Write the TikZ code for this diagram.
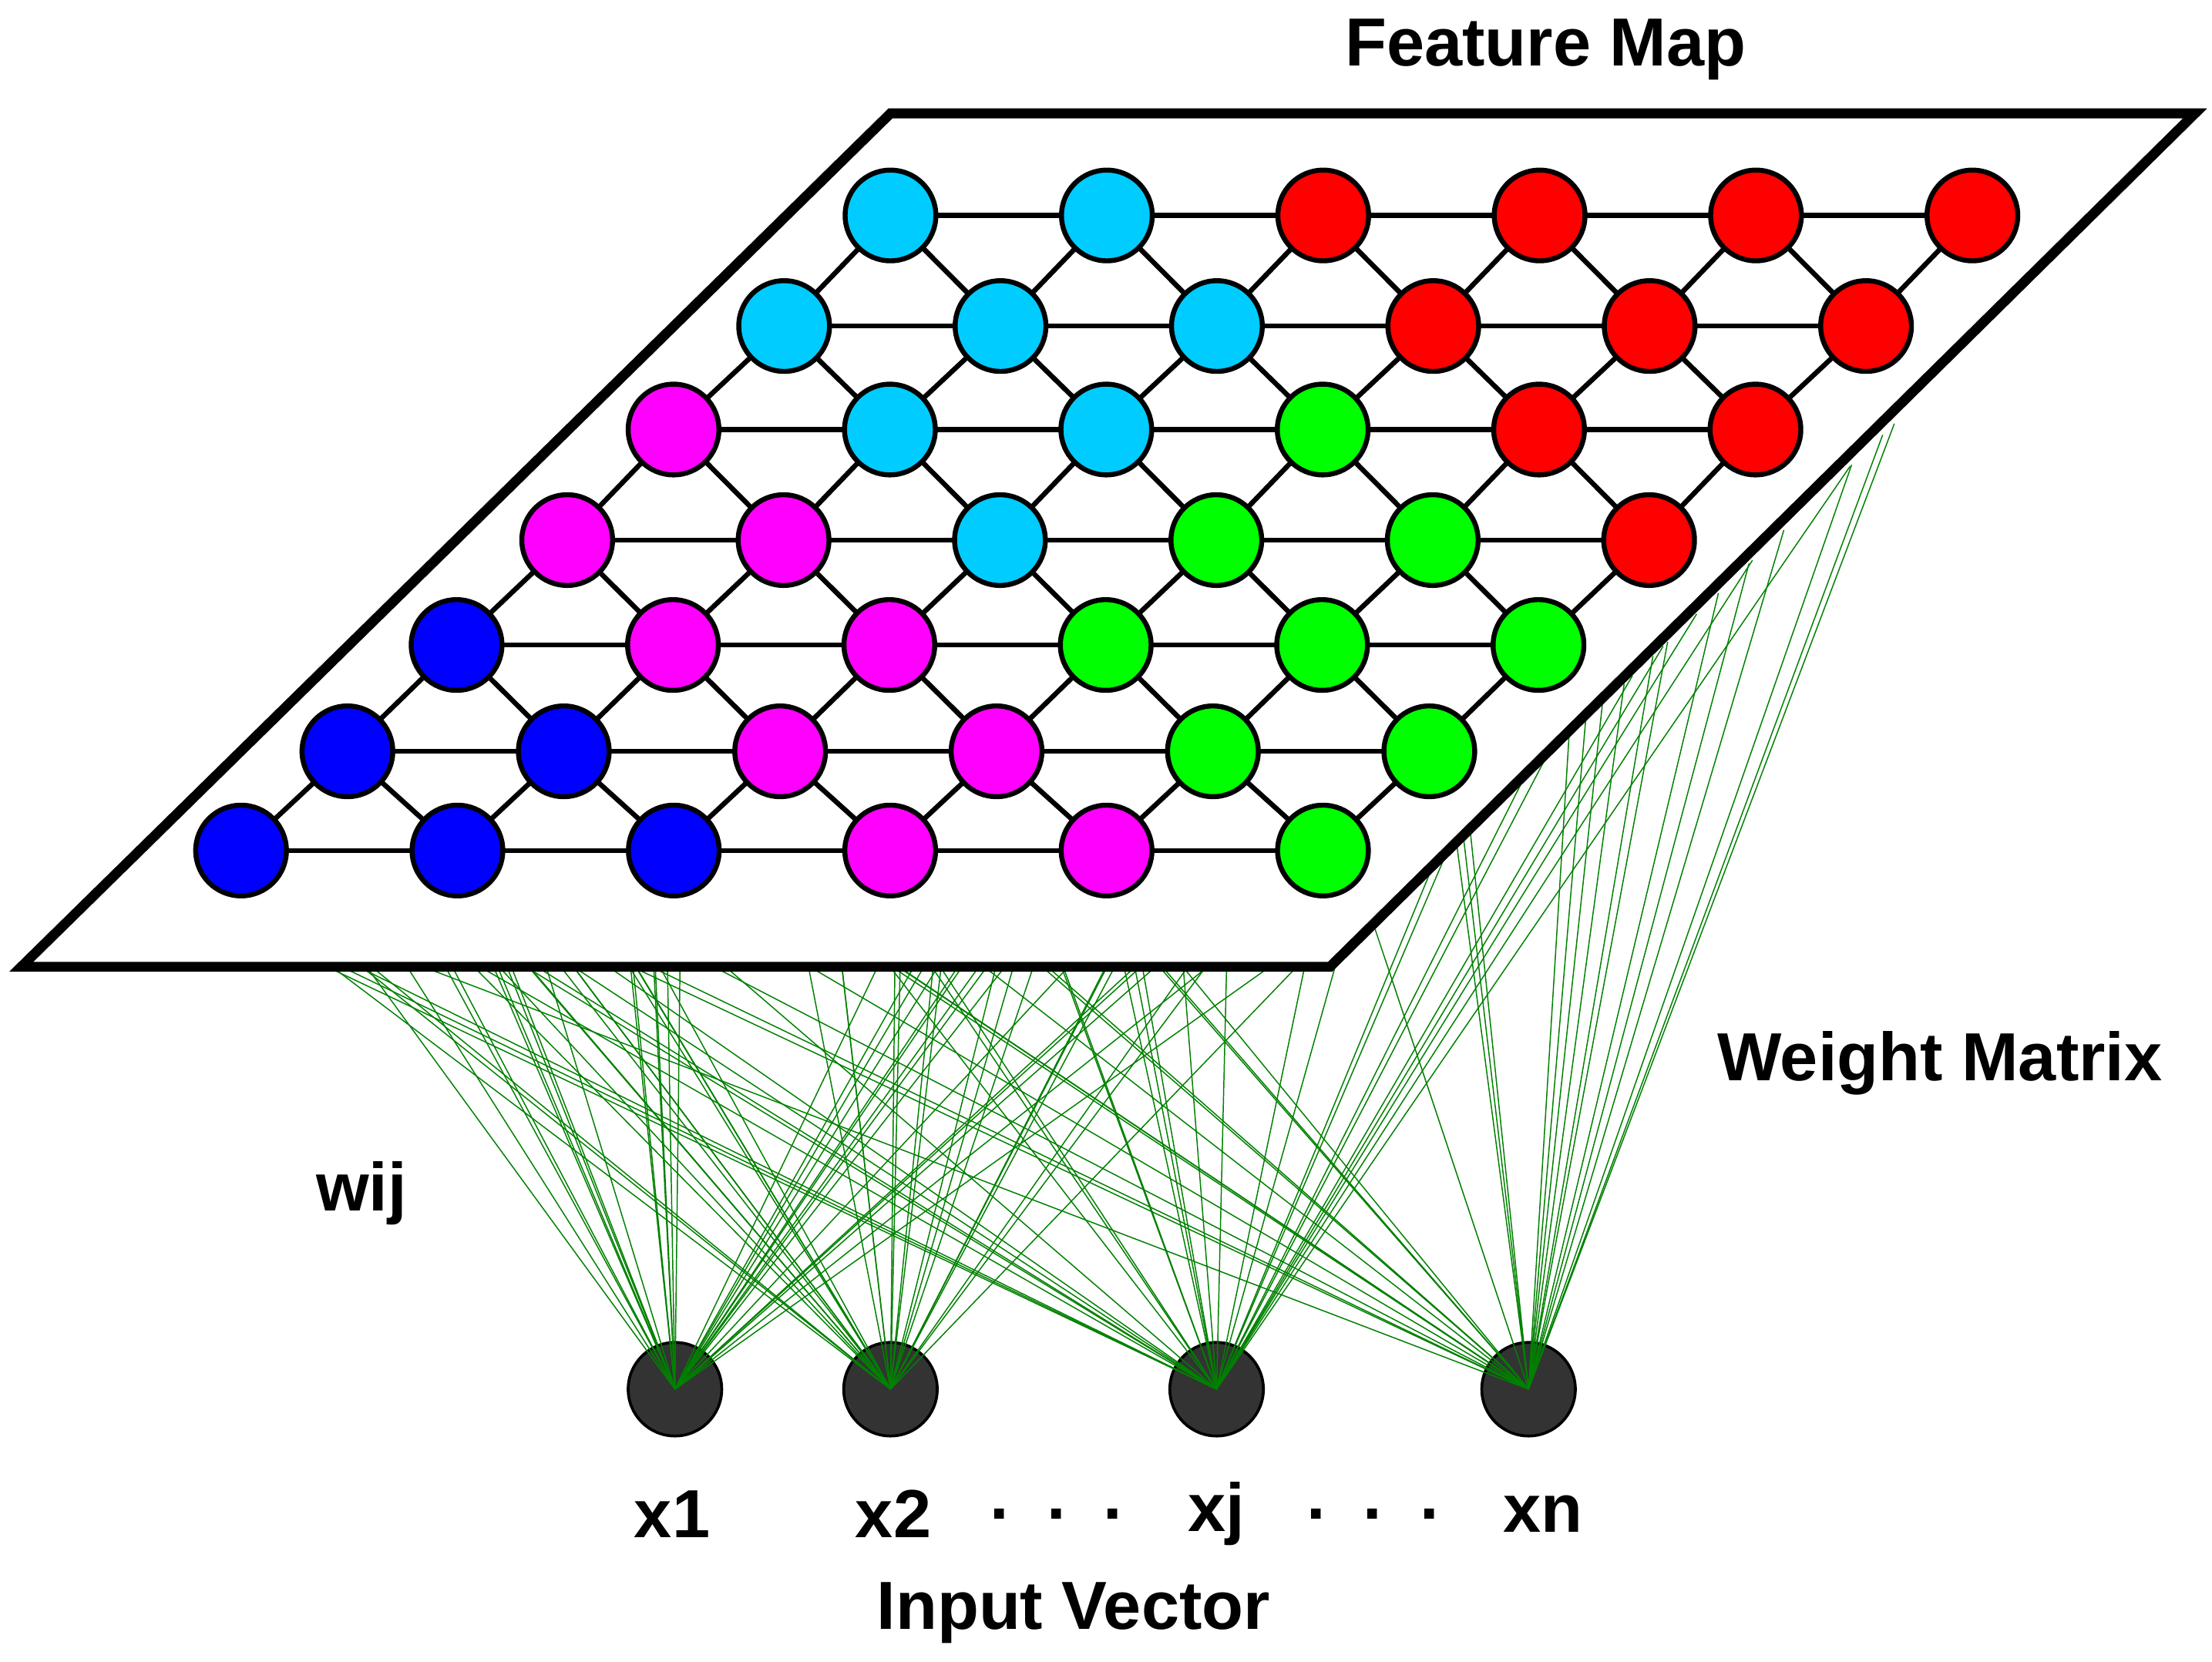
\documentclass[tikz,border=0pt]{standalone}
\usepackage{fontspec}
\setmainfont{Liberation Sans}
\usetikzlibrary{calc}
\begin{document}
\begin{tikzpicture}[x=1pt,y=-1pt,
  nd/.style={circle,draw=black,line width=3.5pt,minimum size=64pt,inner sep=0pt},
  inp/.style={circle,draw=black,line width=2pt,fill=black!80,minimum size=66pt,inner sep=0pt},
  lbl/.style={font=\bfseries\fontsize{48}{50}\selectfont},
  wt/.style={green!50!black,line width=0.8pt}]
\useasboundingbox (0,0) rectangle (1560,1172);
\definecolor{cC}{RGB}{0,204,255}
\definecolor{cR}{RGB}{255,0,0}
\definecolor{cM}{RGB}{255,0,255}
\definecolor{cG}{RGB}{0,255,0}
\definecolor{cB}{RGB}{0,0,255}
% inputs
\node[inp] (i1) at (476,980) {};
\node[inp] (i2) at (628,980) {};
\node[inp] (i3) at (858,980) {};
\node[inp] (i4) at (1078,980) {};
% weights
\pgfmathsetseed{11}
\foreach \k/\p in {1/0,2/0,3/0.35,4/0.55}{
  \foreach \m in {1,...,30}{
    \pgfmathsetmacro{\u}{rnd}
    \pgfmathsetmacro{\v}{rnd}
    \ifdim\v pt<\p pt
      \coordinate (w) at ($(938,682)!\u!(1340,295)$);
    \else
      \coordinate (w) at ($(230,682)!\u!(938,682)$);
    \fi
    \draw[wt] (w) -- (i\k.center);
  }
}
% plane
\coordinate (p1) at (628,80); \coordinate (p2) at (1548,80);
\coordinate (p3) at (938,682); \coordinate (p4) at (15,682);
\draw[line width=7pt,fill=white,line join=miter] (p1)--(p2)--(p3)--(p4)--cycle;
% lattice
\def\rows{{152,230,303,381,455,530,600}}
\def\xs{{628,553,475,400,322,245,170}}
\foreach \r in {0,...,6}{
  \foreach \c in {0,...,5}{
    \pgfmathsetmacro{\xx}{\xs[\r]+152.6*\c}
    \pgfmathsetmacro{\yy}{\rows[\r]}
    \coordinate (c-\r-\c) at (\xx,\yy);
  }
}
\foreach \r in {0,...,6}{
  \foreach \c in {0,...,4}{
    \pgfmathtruncatemacro{\cn}{\c+1}
    \draw[line width=3.5pt] (c-\r-\c) -- (c-\r-\cn);
  }
}
\foreach \r in {0,...,5}{
  \pgfmathtruncatemacro{\rn}{\r+1}
  \foreach \c in {0,...,5}{
    \draw[line width=3.5pt] (c-\r-\c) -- (c-\rn-\c);
    \ifnum\c<5
      \pgfmathtruncatemacro{\cn}{\c+1}
      \draw[line width=3.5pt] (c-\r-\c) -- (c-\rn-\cn);
    \fi
  }
}
\foreach \r/\cols in {0/{cC,cC,cR,cR,cR,cR},1/{cC,cC,cC,cR,cR,cR},2/{cM,cC,cC,cG,cR,cR},3/{cM,cM,cC,cG,cG,cR},4/{cB,cM,cM,cG,cG,cG},5/{cB,cB,cM,cM,cG,cG},6/{cB,cB,cB,cM,cM,cG}}{
  \foreach \col [count=\c from 0] in \cols {
    \node[nd,fill=\col] (n-\r-\c) at (c-\r-\c) {};
  }
}
% labels
\node[lbl] (fm) at (1090,35) {Feature Map};
\node[lbl] (wm) at (1368,750) {Weight Matrix};
\node[lbl] (wij) at (255,842) {wij};
\node[lbl] (l1) at (474,1068) {x1};
\node[lbl] (l2) at (630,1068) {x2};
\node[lbl] (d1) at (745,1068) {.\ \ .\ \ .};
\node[lbl] (l3) at (858,1068) {xj};
\node[lbl] (d2) at (968,1068) {.\ \ .\ \ .};
\node[lbl] (l4) at (1088,1068) {xn};
\node[lbl] (iv) at (757,1138) {Input Vector};
\end{tikzpicture}
\end{document}
